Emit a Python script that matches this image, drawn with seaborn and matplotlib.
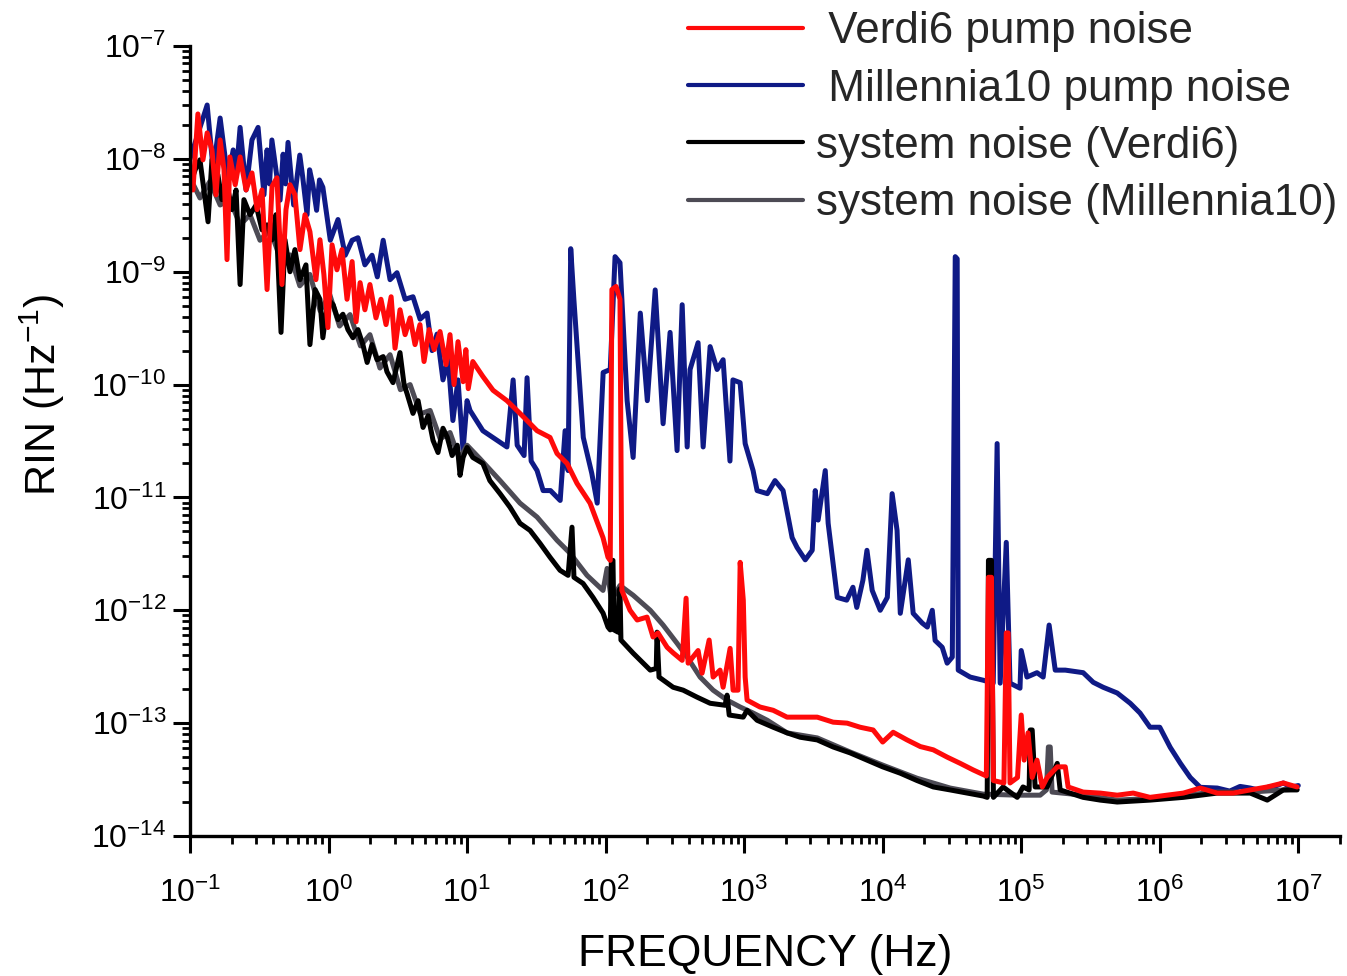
import matplotlib
matplotlib.use("Agg")
import numpy as np
import pandas as pd
import seaborn as sns
import matplotlib.pyplot as plt
from matplotlib.ticker import LogLocator, NullFormatter, LogFormatterSciNotation, FixedLocator
from matplotlib.lines import Line2D

# ---------------- data ----------------
series_labels = [" Verdi6 pump noise", " Millennia10 pump noise",
                 "system noise (Verdi6)", "system noise (Millennia10)"]

# Millennia10 pump noise (blue)
mill_pump_freq = [0.100, 0.133, 0.147, 0.165, 0.188, 0.205, 0.215, 0.23, 0.254, 0.28, 0.31,
                  0.342, 0.36, 0.375, 0.39, 0.447, 0.47, 0.49, 0.51, 0.56, 0.62, 0.65, 0.70,
                  0.73, 0.77, 0.82, 0.86, 0.91, 1.03, 1.17, 1.32, 1.48, 1.63, 1.83, 2.06, 2.25,
                  2.48, 2.78, 3.12, 3.57, 4.07, 4.58, 5.14, 5.59, 6.07, 6.7, 7.3, 7.9, 8.6, 9.35,
                  10.0, 10.5, 13, 16.5, 19.4, 21.5, 23, 25.8, 27.1, 29, 32, 35.4, 40, 44.7, 47,
                  51, 53.6, 56, 59, 63, 69, 79.5, 87, 96, 108, 117, 127, 143, 158, 178, 200, 228,
                  260, 292, 328, 357, 388, 407, 465, 506, 568, 638, 705, 790, 830, 935, 1017,
                  1160, 1240, 1470, 1670, 1910, 2220, 2410, 2760, 3100, 3260, 3420, 3850, 4040,
                  4700, 5500, 6100, 6500, 7200, 7700, 8400, 9600, 1.08e4, 1.17e4, 1.27e4,
                  1.34e4, 1.53e4, 1.66e4, 1.93e4, 2.1e4, 2.28e4, 2.39e4, 2.69e4, 2.92e4, 3.18e4,
                  3.34e4, 3.45e4, 3.51e4, 4.28e4, 5.32e4, 6.28e4, 6.7e4, 7.05e4, 7.8e4, 8.3e4,
                  9.8e4, 1.0e5, 1.1e5, 1.3e5, 1.44e5, 1.59e5, 1.76e5, 2.08e5, 2.8e5, 3.31e5,
                  3.9e5, 4.93e5, 6.12e5, 7.2e5, 8.5e5, 1.0e6, 1.19e6, 1.41e6, 1.66e6, 1.96e6,
                  2.6e6, 3.2e6, 3.8e6, 4.5e6, 5.2e6, 6.0e6, 7.0e6, 7.8e6, 8.8e6, 1.0e7]
mill_pump_rin = [1.0e-8, 3.0e-8, 8.0e-9, 2.3e-8, 6.5e-9, 1.2e-8, 7.0e-9, 1.9e-8, 5.3e-9, 1.47e-8,
                 1.9e-8, 4.8e-9, 1.2e-8, 6.0e-9, 1.47e-8, 4.3e-9, 1.1e-8, 6.0e-9, 1.4e-8, 3.9e-9,
                 1.08e-8, 7.0e-9, 3.2e-9, 8.0e-9, 5.9e-9, 3.5e-9, 6.5e-9, 5.6e-9, 1.9e-9, 2.9e-9,
                 1.4e-9, 1.9e-9, 2.0e-9, 1.15e-9, 1.4e-9, 9.0e-10, 1.9e-9, 8.5e-10, 9.8e-10,
                 5.7e-10, 6.0e-10, 3.8e-10, 4.3e-10, 2.0e-10, 2.8e-10, 1.1e-10, 1.66e-10,
                 4.8e-11, 1.1e-10, 2.6e-11, 7.2e-11, 5.9e-11, 3.9e-11, 3.2e-11, 2.8e-11,
                 1.1e-10, 2.9e-11, 2.35e-11, 1.15e-10, 2.1e-11, 1.73e-11, 1.15e-11, 1.15e-11,
                 1.0e-11, 9.4e-12, 3.9e-11, 1.73e-11, 1.6e-9, 5.7e-10, 1.77e-10, 3.4e-11,
                 1.63e-11, 8.9e-12, 1.28e-10, 1.36e-10, 1.36e-9, 1.2e-9, 7.2e-11, 2.26e-11,
                 4.3e-10, 7.2e-11, 6.9e-10, 4.5e-11, 2.9e-10, 2.6e-11, 5.1e-10, 2.8e-11,
                 1.36e-10, 2.35e-10, 2.8e-11, 2.17e-10, 1.36e-10, 1.66e-10, 2.1e-11, 1.1e-10,
                 1.04e-10, 3.0e-11, 1.73e-11, 1.15e-11, 1.08e-11, 1.41e-11, 1.15e-11, 4.4e-12,
                 3.6e-12, 2.8e-12, 3.4e-12, 1.15e-11, 6.3e-12, 1.73e-11, 5.9e-12, 1.3e-12,
                 1.23e-12, 1.6e-12, 1.06e-12, 1.85e-12, 3.4e-12, 1.5e-12, 1.0e-12, 1.3e-12,
                 1.08e-11, 5.1e-12, 9.4e-13, 2.8e-12, 9.4e-13, 7.7e-13, 7.1e-13, 1.0e-12,
                 5.4e-13, 4.7e-13, 3.4e-13, 3.85e-13, 1.36e-9, 1.3e-9, 2.95e-13, 2.56e-13,
                 2.4e-13, 2.26e-13, 3.0e-11, 2.26e-13, 4.0e-12, 2.26e-13, 2.04e-13, 4.4e-13,
                 2.56e-13, 2.8e-13, 2.56e-13, 7.4e-13, 2.95e-13, 2.95e-13, 2.8e-13, 2.3e-13,
                 2.08e-13, 1.85e-13, 1.5e-13, 1.23e-13, 9.2e-14, 9.2e-14, 6.1e-14, 4.4e-14,
                 3.3e-14, 2.7e-14, 2.66e-14, 2.5e-14, 2.75e-14, 2.66e-14, 2.55e-14, 2.7e-14,
                 2.8e-14, 2.95e-14, 2.7e-14, 2.8e-14]

# Verdi6 pump noise (red)
verdi_pump_freq = [0.100, 0.105, 0.114, 0.124, 0.133, 0.144, 0.154, 0.165, 0.176, 0.185, 0.194,
                   0.212, 0.230, 0.254, 0.280, 0.305, 0.331, 0.360, 0.391, 0.424, 0.461, 0.493,
                   0.527, 0.572, 0.622, 0.676, 0.734, 0.811, 0.867, 0.926, 0.99, 1.06, 1.15,
                   1.25, 1.36, 1.48, 1.58, 1.69, 1.83, 1.99, 2.20, 2.39, 2.60, 2.83, 3.02, 3.28,
                   3.57, 3.88, 4.21, 4.57, 4.89, 5.32, 5.78, 6.38, 7.05, 7.53, 8.05, 8.6, 9.36,
                   9.8, 10.2, 11.0, 13.0, 15.4, 19.4, 24.1, 32.0, 39.7, 44.6, 52.7, 62.2, 77.2,
                   95.8, 104, 108, 111, 119, 127, 131, 150, 169, 199, 220, 239, 278, 307, 357,
                   381, 394, 465, 497, 559, 597, 670, 705, 792, 832, 903, 936, 986, 1017, 1050,
                   1300, 1620, 2040, 2540, 3370, 4390, 5540, 6870, 8530, 1.0e4, 1.19e4, 1.5e4,
                   1.87e4, 2.32e4, 2.92e4, 3.63e4, 4.5e4, 5.6e4, 5.8e4, 6.1e4, 6.3e4, 7.5e4,
                   7.8e4, 8.05e4, 8.3e4, 9.4e4, 1.0e5, 1.05e5, 1.12e5, 1.2e5, 1.3e5, 1.42e5,
                   1.54e5, 1.82e5, 2.08e5, 2.18e5, 2.8e5, 3.72e5, 4.93e5, 6.43e5, 8.5e5, 1.13e6,
                   1.48e6, 1.96e6, 2.6e6, 3.39e6, 4.5e6, 5.97e6, 7.8e6, 9.8e6]
verdi_pump_rin = [7.3e-9, 5.3e-9, 2.5e-8, 9.8e-9, 1.7e-8, 1.2e-8, 4.8e-9, 1.47e-8, 8.0e-9,
                  1.28e-9, 1.04e-8, 5.9e-9, 1.04e-8, 5.3e-9, 7.5e-9, 3.55e-9, 5.3e-9, 6.95e-10,
                  5.7e-9, 6.8e-9, 7.7e-10, 3.55e-9, 5.9e-9, 4.8e-9, 1.57e-9, 3.2e-9, 2.26e-9,
                  8.5e-10, 1.92e-9, 9.4e-10, 3.2e-10, 1.73e-9, 1.04e-9, 1.57e-9, 5.7e-10,
                  1.23e-9, 3.6e-10, 8.0e-10, 4.6e-10, 7.7e-10, 3.9e-10, 5.7e-10, 3.4e-10,
                  6.0e-10, 2.1e-10, 4.6e-10, 2.77e-10, 3.9e-10, 2.26e-10, 3.4e-10, 1.6e-10,
                  3.07e-10, 2.04e-10, 2.95e-10, 1.5e-10, 2.77e-10, 1.0e-10, 2.4e-10, 1.06e-10,
                  2.04e-10, 9.2e-11, 1.6e-10, 1.18e-10, 8.9e-11, 7.2e-11, 5.55e-11, 3.9e-11,
                  3.4e-11, 2.45e-11, 2.0e-11, 1.33e-11, 8.9e-12, 4.4e-12, 2.95e-12, 2.77e-12,
                  6.95e-10, 7.4e-10, 5.7e-10, 1.5e-12, 1.0e-12, 8.2e-13, 8.7e-13, 5.8e-13,
                  6.3e-13, 4.7e-13, 4.2e-13, 3.6e-13, 1.28e-12, 3.4e-13, 4.4e-13, 2.77e-13,
                  5.45e-13, 2.56e-13, 2.95e-13, 2.08e-13, 4.6e-13, 1.96e-13, 1.96e-13, 2.66e-12,
                  1.23e-12, 2.56e-13, 1.6e-13, 1.39e-13, 1.3e-13, 1.13e-13, 1.13e-13, 1.13e-13,
                  1.02e-13, 1.0e-13, 9.2e-14, 8.7e-14, 6.8e-14, 8.3e-14, 7.1e-14, 6.2e-14,
                  5.8e-14, 5.0e-14, 4.4e-14, 3.85e-14, 3.4e-14, 1.96e-12, 1.96e-12, 3.1e-14,
                  2.95e-14, 6.3e-13, 6.3e-13, 2.95e-14, 3.3e-14, 1.18e-13, 4.7e-14, 8.2e-14,
                  3.3e-14, 4.7e-14, 2.72e-14, 3.3e-14, 4.1e-14, 4.1e-14, 2.72e-14, 2.45e-14,
                  2.4e-14, 2.3e-14, 2.4e-14, 2.2e-14, 2.3e-14, 2.4e-14, 2.66e-14, 2.4e-14,
                  2.4e-14, 2.56e-14, 2.72e-14, 2.95e-14, 2.72e-14]

# system noise (Verdi6) (black)
sys_verdi_freq = [0.100, 0.109, 0.118, 0.126, 0.135, 0.144, 0.159, 0.170, 0.182, 0.201, 0.215,
                  0.230, 0.245, 0.271, 0.300, 0.331, 0.360, 0.391, 0.417, 0.454, 0.485, 0.527,
                  0.572, 0.622, 0.687, 0.734, 0.80, 0.867, 0.91, 0.99, 1.08, 1.17, 1.27, 1.38,
                  1.50, 1.63, 1.77, 1.90, 2.06, 2.24, 2.48, 2.64, 2.92, 3.28, 3.51, 3.69, 4.07,
                  4.43, 4.81, 5.23, 5.68, 6.17, 6.7, 7.2, 7.8, 8.5, 8.9, 9.36, 10.0, 11.0, 13.0,
                  14.6, 17.3, 20.4, 24.1, 28.5, 33.7, 39.7, 46.9, 53.6, 57.2, 59.1, 68.7, 81.1,
                  95.8, 104, 108, 110, 113, 115, 123, 125, 127, 129, 158, 210, 232, 235, 243,
                  307, 363, 457, 568, 728, 753, 780, 985, 1050, 1240, 1620, 2040, 2540, 3370,
                  4390, 5820, 7720, 1.0e4, 1.34e4, 1.77e4, 2.32e4, 3.07e4, 4.07e4, 5.32e4,
                  5.68e4, 5.8e4, 6.1e4, 6.3e4, 7.4e4, 7.9e4, 9.36e4, 1.03e5, 1.14e5, 1.16e5,
                  1.20e5, 1.26e5, 1.54e5, 1.82e5, 1.91e5, 2.8e5, 3.72e5, 4.93e5, 8.5e5, 1.48e6,
                  2.6e6, 4.5e6, 5.97e6, 7.8e6, 9.8e6]
sys_verdi_rin = [5.9e-9, 8.0e-9, 9.8e-9, 5.3e-9, 2.77e-9, 9.8e-9, 7.2e-9, 4.35e-9, 6.5e-9,
                 3.55e-9, 5.3e-9, 7.7e-10, 4.35e-9, 3.2e-9, 3.9e-9, 2.35e-9, 2.6e-9, 1.92e-9,
                 3.2e-9, 2.9e-10, 1.92e-9, 1.0e-9, 1.57e-9, 8.5e-10, 1.15e-9, 2.26e-10, 6.95e-10,
                 5.7e-10, 2.6e-10, 5.7e-10, 5.1e-10, 3.76e-10, 4.2e-10, 3.07e-10, 2.6e-10,
                 3.07e-10, 2.26e-10, 1.57e-10, 2.26e-10, 1.66e-10, 1.77e-10, 1.3e-10, 1.04e-10,
                 1.92e-10, 1.0e-10, 8.3e-11, 5.55e-11, 7.2e-11, 4.17e-11, 5.3e-11, 3.2e-11,
                 2.5e-11, 4.1e-11, 3.4e-11, 2.35e-11, 2.9e-11, 1.57e-11, 2.26e-11, 2.77e-11,
                 2.26e-11, 2.0e-11, 1.41e-11, 1.08e-11, 8.2e-12, 5.9e-12, 5.1e-12, 3.9e-12,
                 2.95e-12, 2.26e-12, 2.04e-12, 5.45e-12, 1.96e-12, 1.73e-12, 1.3e-12, 9.45e-13,
                 7.1e-13, 6.7e-13, 2.77e-12, 2.77e-12, 6.7e-13, 6.4e-13, 1.5e-12, 1.55e-12,
                 5.45e-13, 4.17e-13, 2.95e-13, 3.05e-13, 6.4e-13, 2.56e-13, 2.08e-13, 1.96e-13,
                 1.7e-13, 1.5e-13, 1.44e-13, 1.77e-13, 1.18e-13, 1.13e-13, 1.3e-13, 1.06e-13,
                 9.2e-14, 8.2e-14, 7.5e-14, 7.1e-14, 6.15e-14, 5.45e-14, 4.7e-14, 4.1e-14,
                 3.6e-14, 3.1e-14, 2.72e-14, 2.56e-14, 2.4e-14, 2.26e-14, 2.2e-14, 2.77e-12,
                 2.77e-12, 2.2e-14, 2.72e-14, 2.56e-14, 2.2e-14, 2.72e-14, 2.56e-14, 8.7e-14,
                 8.7e-14, 2.72e-14, 2.72e-14, 4.4e-14, 2.56e-14, 2.2e-14, 2.08e-14, 2.0e-14,
                 2.08e-14, 2.2e-14, 2.4e-14, 2.4e-14, 2.08e-14, 2.56e-14, 2.56e-14]

# system noise (Millennia10) (grey)
sys_mill_freq = [0.100, 0.118, 0.139, 0.165, 0.194, 0.23, 0.271, 0.32, 0.378, 0.45, 0.527, 0.62,
                 0.734, 0.87, 1.02, 1.2, 1.43, 1.7, 1.99, 2.35, 2.78, 3.3, 3.88, 4.6, 5.41, 6.4,
                 7.53, 8.8, 10.0, 12.4, 17.3, 24.1, 32.0, 44.6, 55.4, 73.4, 95.8, 102.5, 110,
                 127, 158, 210, 260, 328, 388, 481, 597, 753, 936, 1160, 1470, 2040, 3370, 5820,
                 1.0e4, 1.77e4, 3.07e4, 5.32e4, 9.36e4, 1.37e5, 1.52e5, 1.57e5, 1.62e5, 1.67e5,
                 2.8e5, 4.93e5, 8.5e5, 1.48e6, 2.6e6, 4.5e6, 7.8e6, 9.8e6]
sys_mill_rin = [6.8e-9, 4.5e-9, 6.3e-9, 3.9e-9, 4.35e-9, 2.6e-9, 3.2e-9, 1.9e-9, 2.35e-9,
                1.3e-9, 1.41e-9, 7.5e-10, 9.45e-10, 4.5e-10, 6.3e-10, 3.3e-10, 4.17e-10,
                2.2e-10, 2.77e-10, 1.4e-10, 1.84e-10, 9.0e-11, 1.0e-10, 5.5e-11, 5.9e-11,
                3.3e-11, 3.76e-11, 2.2e-11, 2.9e-11, 2.2e-11, 1.41e-11, 8.9e-12, 6.7e-12,
                4.17e-12, 3.2e-12, 2.04e-12, 1.5e-12, 2.35e-12, 1.23e-12, 1.66e-12, 1.36e-12,
                1.0e-12, 7.4e-13, 5.1e-13, 3.85e-13, 2.56e-13, 1.96e-13, 1.6e-13, 1.39e-13,
                1.23e-13, 1.06e-13, 8.2e-14, 7.4e-14, 5.55e-14, 4.25e-14, 3.25e-14, 2.66e-14,
                2.35e-14, 2.3e-14, 2.3e-14, 2.56e-14, 6.15e-14, 6.15e-14, 2.45e-14, 2.3e-14,
                2.08e-14, 2.15e-14, 2.3e-14, 2.45e-14, 2.45e-14, 2.56e-14, 2.6e-14]

x_tick_values = [1e-1, 1e0, 1e1, 1e2, 1e3, 1e4, 1e5, 1e6, 1e7]
y_tick_values = [1e-14, 1e-13, 1e-12, 1e-11, 1e-10, 1e-9, 1e-8, 1e-7]

# ---------------- style ----------------
sns.set_theme(style="ticks")
plt.rcParams["font.family"] = ["Liberation Sans", "DejaVu Sans"]
plt.rcParams["mathtext.fontset"] = "custom"
plt.rcParams["mathtext.rm"] = "Liberation Sans"
plt.rcParams["mathtext.it"] = "Liberation Sans:italic"
plt.rcParams["mathtext.bf"] = "Liberation Sans:bold"
plt.rcParams["mathtext.default"] = "regular"
plt.rcParams["axes.unicode_minus"] = False

colors = {"red": "#ff0a0a", "blue": "#0f1a86", "black": "#000000", "grey": "#4d4b55"}

fig = plt.figure(figsize=(13.47, 9.76), dpi=100)
fig.patch.set_facecolor("white")
ax = fig.add_axes([190 / 1347, 140 / 976, 1150 / 1347, 790 / 976])
ax.set_facecolor("white")
ax.set_xscale("log")
ax.set_yscale("log")

lw = 3.6
frames = {
    "blue": pd.DataFrame({"freq": mill_pump_freq, "rin": mill_pump_rin}),
    "grey": pd.DataFrame({"freq": sys_mill_freq, "rin": sys_mill_rin}),
    "black": pd.DataFrame({"freq": sys_verdi_freq, "rin": sys_verdi_rin}),
    "red": pd.DataFrame({"freq": verdi_pump_freq, "rin": verdi_pump_rin}),
}
for key in ["blue", "grey", "black", "red"]:
    sns.lineplot(data=frames[key], x="freq", y="rin", ax=ax, color=colors[key],
                 lw=lw, estimator=None, sort=False, errorbar=None)
for line in ax.lines:
    line.set_linewidth(lw)
    line.set_solid_joinstyle("round")
    line.set_solid_capstyle("round")

ax.set_xlim(1e-1, 2e7)
ax.set_ylim(1e-14, 1e-7)

ax.xaxis.set_major_locator(FixedLocator(x_tick_values))
ax.yaxis.set_major_locator(FixedLocator(y_tick_values))
ax.xaxis.set_minor_locator(LogLocator(base=10, subs=np.arange(2, 10), numticks=30))
ax.yaxis.set_minor_locator(LogLocator(base=10, subs=np.arange(2, 10), numticks=30))
ax.xaxis.set_major_formatter(LogFormatterSciNotation())
ax.yaxis.set_major_formatter(LogFormatterSciNotation())
ax.xaxis.set_minor_formatter(NullFormatter())
ax.yaxis.set_minor_formatter(NullFormatter())

sns.despine(ax=ax)
for s in ["left", "bottom"]:
    ax.spines[s].set_linewidth(2.4)
    ax.spines[s].set_color("black")
ax.tick_params(which="major", direction="out", length=12, width=2.2, color="black",
               labelsize=23, labelcolor="black")
ax.tick_params(axis="x", which="major", pad=18)
ax.tick_params(axis="y", which="major", pad=5)
ax.tick_params(which="minor", direction="out", length=6, width=2.0, color="black")

ax.set_xlabel("FREQUENCY (Hz)", fontsize=32, color="black")
ax.set_ylabel("RIN (Hz$^{-1}$)", fontsize=31, color="black")
ax.xaxis.set_label_coords(0.5, -0.124)
ax.yaxis.set_label_coords(-0.107, 0.558)

handles = [Line2D([0], [0], color=colors["red"], lw=3.0),
           Line2D([0], [0], color=colors["blue"], lw=3.0),
           Line2D([0], [0], color=colors["black"], lw=3.0),
           Line2D([0], [0], color=colors["grey"], lw=3.0)]
leg = ax.legend(handles, series_labels, loc="upper right",
                bbox_to_anchor=(1342 / 1347, 0.993), bbox_transform=fig.transFigure,
                frameon=False, fontsize=31.7, handlelength=2.62, handletextpad=0.3,
                labelspacing=0.37, borderpad=0.1, borderaxespad=0.0)

fig.savefig("out.png", dpi=100, facecolor="white")
